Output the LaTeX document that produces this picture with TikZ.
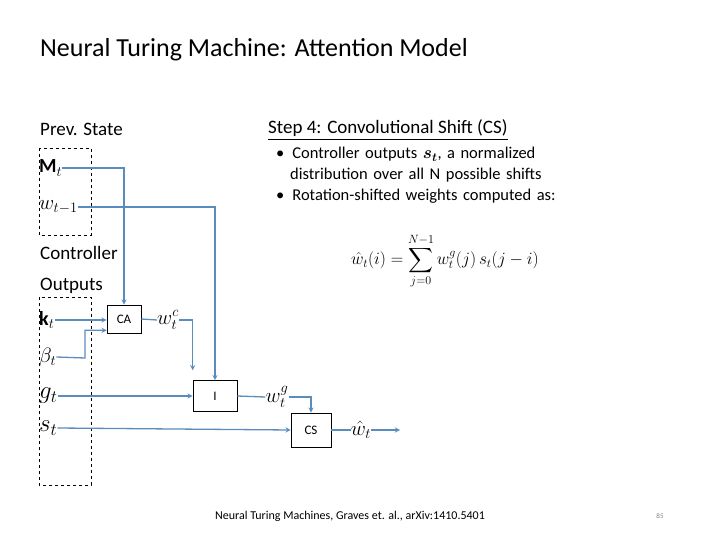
\documentclass[tikz,border=0pt]{standalone}
\usepackage{fontspec}
\setmainfont{Carlito}
\usepackage{amsmath}
\usetikzlibrary{calc}
\begin{document}
\begin{tikzpicture}[x=1pt,y=-1pt,
  ln/.style={draw=lc, line width=1.3pt},
  arr/.style={ln,-stealth},
  box/.style={draw,line width=0.6pt,minimum width=34pt,minimum height=28pt,inner sep=0pt,font=\fontsize{13}{15}\selectfont},
  dbox/.style={draw,dashed,line width=0.6pt},
  txt/.style={anchor=west,inner sep=0pt,font=\fontsize{19}{23}\selectfont},
  mth/.style={inner sep=0pt,font=\fontsize{20}{24}\selectfont}]
\definecolor{lc}{RGB}{90,140,190}
\useasboundingbox (0,0) rectangle (720,540);
\node[anchor=west,inner sep=0pt,font=\fontsize{26}{30}\selectfont] (title) at (40,50) {Neural Turing Machine: Attention Model};
\node[txt] (prev) at (40,129) {Prev. State};
\node[txt] (step) at (268,130) {\underline{Step 4: Convolutional Shift (CS)}};
\node[anchor=north west,inner sep=0pt,font=\fontsize{16.5}{21}\selectfont,text width=340pt] (bul) at (276,147)
  {\textbullet\hspace{8pt}Controller outputs $\boldsymbol{s_t}$, a normalized\\
   \hspace{14pt}distribution over all N possible shifts\\
   \textbullet\hspace{8pt}Rotation-shifted weights computed as:};
\node[mth,font=\fontsize{17}{20}\selectfont] (eq) at (445,261) {$\displaystyle \hat{w}_t(i)=\sum_{j=0}^{N-1} w_t^g(j)\,s_t(j-i)$};
\node[txt] (ctrl) at (40,253) {Controller};
\node[txt] (outp) at (40,286) {Outputs};
\draw[dbox] (39,148) rectangle (91,235);
\draw[dbox] (39,297) rectangle (91,485);
\node[mth,anchor=west] (M) at (39,168) {$\mathbf{M}_t$};
\node[mth,anchor=west] (w1) at (39,207) {$w_{t-1}$};
\node[mth,anchor=west] (k) at (39,320) {$\mathbf{k}_t$};
\node[mth,anchor=west] (b) at (39,357) {$\beta_t$};
\node[mth,anchor=west,font=\fontsize{24}{28}\selectfont] (g) at (39,396) {$g_t$};
\node[mth,anchor=west,font=\fontsize{24}{28}\selectfont] (s) at (39,428) {$s_t$};
\node[box] (CA) at (124,319) {CA};
\node[box,minimum width=44pt,minimum height=31pt] (I) at (215,396) {I};
\node[box,minimum width=40pt,minimum height=34pt] (CS) at (311,430) {CS};
\node[mth] (wc) at (168,320) {$w_t^c$};
\node[mth] (wg) at (277,397) {$w_t^g$};
\node[mth] (wh) at (361,430) {$\hat{w}_t$};
\coordinate (out) at (400,430);
\coordinate (wcend) at ($(I.north west)+(0,-10)$);
\draw[arr] (M.east) -| (CA.north);
\draw[arr] (w1.east) -| (I.north);
\draw[arr] (k.east) -- (CA.west|-k.east);
\draw[arr] (b.east) -- (85,358) |- ($(CA.south west)+(0,-3)$);
\draw[ln] (CA.east) -- (wc.west);
\draw[arr] (wc.east) -| (wcend);
\draw[arr] (g.east) -- (I.west);
\draw[ln] (I.east) -- (wg.west);
\draw[arr] (wg.east) -| (CS.north);
\draw[arr] (s.east) -- (CS.west);
\draw[ln] (CS.east) -- (wh.west);
\draw[arr] (wh.east) -- (out);
\node[anchor=center,inner sep=0pt,font=\fontsize{12}{14}\selectfont] (ref) at (350,516) {Neural Turing Machines, Graves et. al., arXiv:1410.5401};
\node[inner sep=0pt,font=\fontsize{7}{8}\selectfont,text=gray] (pg) at (660,516) {85};
\end{tikzpicture}
\end{document}
